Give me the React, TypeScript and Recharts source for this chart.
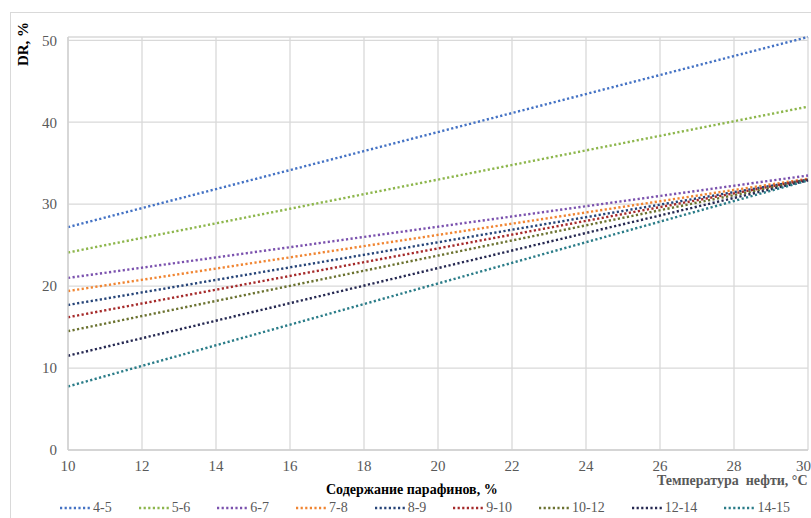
import React from 'react';
import { LineChart, Line, XAxis, YAxis, CartesianGrid } from 'recharts';

// paraffin content groups, %
const groups = ['4-5', '5-6', '6-7', '7-8', '8-9', '9-10', '10-12', '12-14', '14-15'];
const colors = ['#4472C4', '#8DB64C', '#7B52AE', '#F08532', '#264478', '#A52A2A', '#6B7230', '#262952', '#2A7C88'];

// oil temperature, °C (trend line endpoints)
const temps = [10, 30];
// DR, % at 10 °C and at 30 °C
const drAt10 = [27.2, 24.1, 21.0, 19.4, 17.7, 16.2, 14.5, 11.5, 7.75];
const drAt30 = [50.4, 41.9, 33.5, 33.1, 33.0, 33.0, 32.95, 32.9, 32.9];

const xTicks = [10, 12, 14, 16, 18, 20, 22, 24, 26, 28, 30];
const yTicks = [0, 10, 20, 30, 40, 50];

const data = temps.map((t, i) => {
  const row: Record<string, number> = { t };
  groups.forEach((g, k) => {
    row[g] = i === 0 ? drAt10[k] : drAt30[k];
  });
  return row;
});

const font = 'Liberation Serif';

export default function App() {
  return (
    <div style={{ position: 'absolute', left: 0, top: 0, width: 811, height: 518, overflow: 'hidden', background: '#fff', fontFamily: font }}>
      <div style={{ position: 'absolute', left: 10, top: 12, width: 830, height: 540, border: '1px solid #d9d9d9' }} />
      <LineChart
        width={811}
        height={518}
        data={data}
        margin={{ top: 37, right: 3, bottom: 48, left: 0 }}
        style={{ position: 'absolute', left: 0, top: 0, fontFamily: font }}
      >
        <CartesianGrid stroke="#d9d9d9" strokeWidth={1.3} />
        <XAxis
          dataKey="t"
          type="number"
          domain={[10, 30]}
          ticks={xTicks}
          height={20}
          tickSize={0}
          tickMargin={10}
          axisLine={{ stroke: '#d0d0d0', strokeWidth: 1.3 }}
          tick={{ fill: '#595959', fontSize: 15, fontFamily: font }}
        />
        <YAxis
          type="number"
          domain={[0, 50]}
          ticks={yTicks}
          width={68}
          tickSize={0}
          tickMargin={11}
          axisLine={{ stroke: '#d0d0d0', strokeWidth: 1.3 }}
          tick={{ fill: '#595959', fontSize: 15, fontFamily: font }}
        />
        {groups.map((g, k) => (
          <Line
            key={g}
            dataKey={g}
            stroke={colors[k]}
            strokeWidth={2.4}
            strokeDasharray="2.2 2.4"
            dot={false}
            activeDot={false}
            isAnimationActive={false}
          />
        ))}
      </LineChart>

      {/* y axis title */}
      <div
        style={{
          position: 'absolute', left: 23, top: 44, transform: 'translate(-50%, -50%) rotate(-90deg)',
          fontSize: 15, fontWeight: 'bold', color: '#000', whiteSpace: 'nowrap',
        }}
      >
        DR, %
      </div>

      {/* x axis titles */}
      <div style={{ position: 'absolute', left: 326, top: 482, fontSize: 14, fontWeight: 'bold', color: '#000', whiteSpace: 'nowrap' }}>
        Содержание парафинов, %
      </div>
      <div style={{ position: 'absolute', left: 657, top: 473, fontSize: 14, fontWeight: 'bold', color: '#595959', whiteSpace: 'pre' }}>
        {'Температура  нефти, °C'}
      </div>

      {/* legend */}
      <div style={{ position: 'absolute', left: 59, top: 499, display: 'flex', gap: 26, alignItems: 'center' }}>
        {groups.map((g, k) => (
          <div key={g} style={{ display: 'flex', alignItems: 'center' }}>
            <svg width={31} height={6} style={{ marginRight: 3 }}>
              <line x1={1} y1={3} x2={31} y2={3} stroke={colors[k]} strokeWidth={2.4} strokeDasharray="2.2 2.4" />
            </svg>
            <span style={{ fontSize: 14, color: '#595959', lineHeight: '18px' }}>{g}</span>
          </div>
        ))}
      </div>
    </div>
  );
}
